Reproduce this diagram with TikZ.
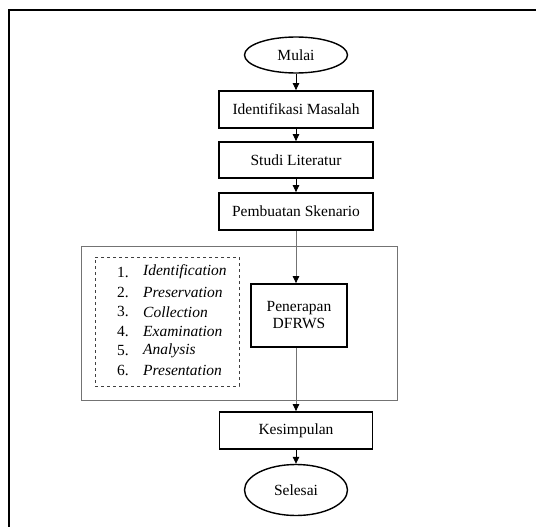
\documentclass[tikz,border=0pt]{standalone}
\usepackage{fontspec}
\setmainfont{Liberation Serif}
\usetikzlibrary{arrows.meta,shapes.geometric}
\begin{document}
\begin{tikzpicture}[x=1pt,y=-1pt,
  every node/.style={font=\fontsize{15.5}{18}\selectfont},
  procbox/.style={draw=black,line width=1.8pt,rectangle,inner sep=0pt,align=center},
  term/.style={draw=black,line width=1.4pt,ellipse,inner sep=0pt},
  arr/.style={draw=black,line width=0.8pt,-{Triangle[width=6.5pt,length=7pt,color=black]}},
  garr/.style={draw=black!55,line width=0.9pt,-{Triangle[width=6.5pt,length=7pt,color=black]}},
  listitem/.style={anchor=west,inner sep=0pt}]
\useasboundingbox (0,0) rectangle (536,527);
\fill[white] (0,0) rectangle (536,527);
% outer frame
\coordinate (fbl) at (9,528);
\coordinate (ftl) at (9,10);
\coordinate (ftr) at (537,10);
\draw[line width=1.6pt] (fbl) -- (ftl) -- (ftr);
% group boxes
\node[draw=black!55,line width=0.8pt,minimum width=316pt,minimum height=154pt,inner sep=0pt] (group) at (239,323) {};
\node[draw=black!75,dashed,line width=0.6pt,minimum width=144pt,minimum height=129pt,inner sep=0pt] (list) at (167,321.5) {};
% list
\foreach \n/\t/\y in {1/Identification/272,2/Preservation/292,3/Collection/311.7,4/Examination/331.5,5/Analysis/351,6/Presentation/370.5}{
  \node[listitem] (num\n) at (117,\y) {\n.};
  \node[listitem] (item\n) at (143,\y) {\textit{\t}};
}
% nodes
\node[term,minimum width=103pt,minimum height=36pt] (mulai) at (296,55) {Mulai};
\node[procbox,minimum width=154pt,minimum height=37pt] (ident) at (296,109.5) {Identifikasi Masalah};
\node[procbox,minimum width=154pt,minimum height=36pt] (studi) at (296,160) {Studi Literatur};
\node[procbox,minimum width=154pt,minimum height=37pt] (skenario) at (296,211.5) {Pembuatan Skenario};
\node[procbox,minimum width=96pt,minimum height=63pt] (dfrws) at (299,315.5) {Penerapan\\[-1pt]DFRWS};
\node[procbox,minimum width=153pt,minimum height=37pt] (kesim) at (296,430.5) {Kesimpulan};
\node[term,minimum width=103pt,minimum height=51pt] (selesai) at (296,490) {Selesai};
% connectors
\draw[arr] (mulai.south) -- (ident.north);
\draw[arr] (ident.south) -- (studi.north);
\draw[arr] (studi.south) -- (skenario.north);
\draw[garr] (skenario.south) -- (skenario.south |- dfrws.north);
\draw[garr] (skenario.south |- dfrws.south) -- (kesim.north);
\draw[arr] (kesim.south) -- (selesai.north);
\end{tikzpicture}
\end{document}
